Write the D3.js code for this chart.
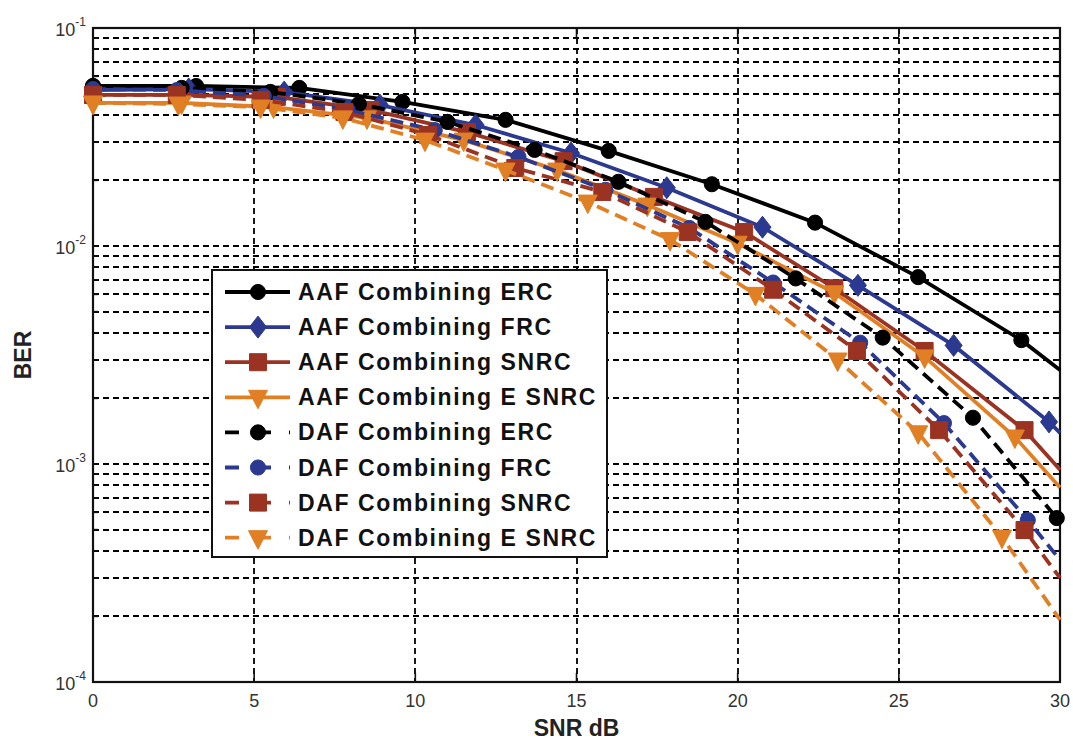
<!DOCTYPE html>
<html>
<head>
<meta charset="utf-8">
<script src="https://cdn.jsdelivr.net/npm/d3@7/dist/d3.min.js"></script>
<style>
  body { margin: 0; background: #fff; }
  text { font-family: "Liberation Sans", Arial, sans-serif; }
</style>
</head>
<body>
<div id="chart"></div>
<script>
// values (BER vs SNR in dB)
var xAafErc = [0, 3.2, 6.4, 9.6, 12.8, 16, 19.2, 22.4, 25.6, 28.8, 30];
var yAafErc = [0.0542, 0.0542, 0.0531, 0.0458, 0.0379, 0.0273, 0.0192, 0.0128, 0.0072, 0.0037, 0.0027];

var xAafFrc = [0, 2.97, 5.93, 8.9, 11.87, 14.83, 17.8, 20.77, 23.73, 26.7, 29.66, 30];
var yAafFrc = [0.0519, 0.0525, 0.0508, 0.0443, 0.0359, 0.0267, 0.0185, 0.0122, 0.0066, 0.0035, 0.00156, 0.00139];

var xAafSnrc = [0, 2.7, 5.7, 8.6, 11.6, 14.6, 17.4, 20.2, 23.0, 25.8, 28.9, 30];
var yAafSnrc = [0.0493, 0.0493, 0.0483, 0.0421, 0.0333, 0.0245, 0.0168, 0.0116, 0.0064, 0.0033, 0.00143, 0.00094];

var xAafEsnrc = [0, 2.75, 5.6, 8.5, 11.5, 14.4, 17.2, 20.0, 23.0, 25.8, 28.6, 30];
var yAafEsnrc = [0.0453, 0.0453, 0.0434, 0.0387, 0.0306, 0.0223, 0.0154, 0.0103, 0.0061, 0.0031, 0.00133, 0.00078];

var xDafErc = [0, 2.75, 5.5, 8.25, 11.0, 13.7, 16.3, 19.0, 21.8, 24.5, 27.3, 29.9];
var yDafErc = [0.0542, 0.0531, 0.0509, 0.0448, 0.0371, 0.0276, 0.0197, 0.0129, 0.0071, 0.0038, 0.00163, 0.000565];

var xDafFrc = [0, 2.6, 5.3, 7.9, 10.6, 13.2, 15.9, 18.5, 21.1, 23.8, 26.4, 29.0, 30];
var yDafFrc = [0.0525, 0.0519, 0.0488, 0.0421, 0.0340, 0.0256, 0.0181, 0.0121, 0.0068, 0.0036, 0.00154, 0.000553, 0.000363];

var xDafSnrc = [0, 2.6, 5.2, 7.8, 10.4, 13.1, 15.8, 18.45, 21.1, 23.7, 26.25, 28.9, 30];
var yDafSnrc = [0.0493, 0.0493, 0.0468, 0.0412, 0.0323, 0.0228, 0.0177, 0.0116, 0.0063, 0.0033, 0.00143, 0.000498, 0.0003];

var xDafEsnrc = [0, 2.65, 5.2, 7.75, 10.3, 12.8, 15.35, 17.9, 20.55, 23.1, 25.6, 28.2, 30];
var yDafEsnrc = [0.0453, 0.0448, 0.0434, 0.0387, 0.0306, 0.0223, 0.0159, 0.0107, 0.0060, 0.0030, 0.00139, 0.000462, 0.000193];

var seriesNames = [
  "AAF Combining ERC", "AAF Combining FRC", "AAF Combining SNRC", "AAF Combining E SNRC",
  "DAF Combining ERC", "DAF Combining FRC", "DAF Combining SNRC", "DAF Combining E SNRC"
];
var xTicks = [0, 5, 10, 15, 20, 25, 30];
var yDecades = [-1, -2, -3, -4];

var colors = { black: "#000000", blue: "#2b3990", red: "#9b3322", orange: "#e07f24" };

var series = [
  { x: xAafErc, y: yAafErc, color: colors.black, dash: null, marker: "circle" },
  { x: xAafFrc, y: yAafFrc, color: colors.blue, dash: null, marker: "diamond" },
  { x: xAafSnrc, y: yAafSnrc, color: colors.red, dash: null, marker: "square" },
  { x: xAafEsnrc, y: yAafEsnrc, color: colors.orange, dash: null, marker: "tri" },
  { x: xDafErc, y: yDafErc, color: colors.black, dash: "13,7", marker: "circle" },
  { x: xDafFrc, y: yDafFrc, color: colors.blue, dash: "13,7", marker: "circle" },
  { x: xDafSnrc, y: yDafSnrc, color: colors.red, dash: "13,7", marker: "square" },
  { x: xDafEsnrc, y: yDafEsnrc, color: colors.orange, dash: "13,7", marker: "tri" }
];
series.forEach(function (s, i) { s.name = seriesNames[i]; });

var margin = { top: 28, right: 13, bottom: 58, left: 93 };
var width = 1073 - margin.left - margin.right;
var height = 740 - margin.top - margin.bottom;

var root = d3.select("#chart").append("svg")
  .attr("width", 1073)
  .attr("height", 740);

var svg = root.append("g")
  .attr("transform", "translate(" + margin.left + "," + margin.top + ")");

var x = d3.scaleLinear().domain([0, 30]).range([0, width]);
var y = d3.scaleLog().domain([1e-4, 1e-1]).range([height, 0]);

// grid values: every minor step of each decade
var yGrid = [];
[-4, -3, -2].forEach(function (k) {
  for (var m = 1; m <= 9; m++) yGrid.push(m * Math.pow(10, k));
});
yGrid = yGrid.filter(function (v) { return v > 1e-4; });

svg.append("g").selectAll("line").data(yGrid).enter().append("line")
  .attr("x1", 0).attr("x2", width)
  .attr("y1", function (d) { return Math.round(y(d)); })
  .attr("y2", function (d) { return Math.round(y(d)); })
  .attr("stroke", "#000")
  .attr("stroke-width", 1.8)
  .attr("stroke-dasharray", "6,4");

svg.append("g").selectAll("line").data(xTicks.slice(1, -1)).enter().append("line")
  .attr("x1", function (d) { return Math.round(x(d)); })
  .attr("x2", function (d) { return Math.round(x(d)); })
  .attr("y1", 0).attr("y2", height)
  .attr("stroke", "#000")
  .attr("stroke-width", 1.8)
  .attr("stroke-dasharray", "6,4");

// inward ticks on all four sides
function tickLines(g, vals, len, side) {
  g.selectAll("line.t" + side + len).data(vals).enter().append("line")
    .attr("stroke", "#111").attr("stroke-width", 1.6)
    .attr("x1", function (d) { return side === "l" ? 0 : side === "r" ? width : x(d); })
    .attr("x2", function (d) { return side === "l" ? len : side === "r" ? width - len : x(d); })
    .attr("y1", function (d) { return side === "b" ? height : side === "t" ? 0 : y(d); })
    .attr("y2", function (d) { return side === "b" ? height - len : side === "t" ? len : y(d); });
}
var ticks = svg.append("g");
tickLines(ticks, yGrid, 5, "l");
tickLines(ticks, yGrid, 5, "r");
tickLines(ticks, xTicks, 9, "b");
tickLines(ticks, xTicks, 9, "t");

// frame
svg.append("rect")
  .attr("width", width).attr("height", height)
  .attr("fill", "none").attr("stroke", "#111").attr("stroke-width", 2.2);

// tick labels
svg.append("g").selectAll("text").data(xTicks).enter().append("text")
  .attr("x", function (d) { return x(d); })
  .attr("y", height + 25)
  .attr("text-anchor", "middle")
  .attr("fill", "#333")
  .style("font-size", "18px")
  .text(function (d) { return d; });

var yl = svg.append("g").selectAll("text").data(yDecades).enter().append("text")
  .attr("x", -7)
  .attr("y", function (d) { return y(Math.pow(10, d)) + 8; })
  .attr("text-anchor", "end")
  .attr("fill", "#333")
  .style("font-size", "18px");
yl.append("tspan").text("10");
yl.append("tspan").attr("dy", -10).style("font-size", "12px")
  .text(function (d) { return d; });

// axis titles
svg.append("text")
  .attr("x", width / 2)
  .attr("y", height + 54)
  .attr("text-anchor", "middle")
  .style("font-size", "23px")
  .style("font-weight", "bold")
  .attr("fill", "#222")
  .text("SNR dB");

svg.append("text")
  .attr("transform", "rotate(-90)")
  .attr("x", -height / 2)
  .attr("y", -62)
  .attr("text-anchor", "middle")
  .style("font-size", "23px")
  .style("font-weight", "bold")
  .attr("fill", "#222")
  .text("BER");

function markerPath(kind) {
  if (kind === "circle") return d3.symbol().type(d3.symbolCircle).size(180)();
  if (kind === "square") return "M-8.5,-8.5H8.5V8.5H-8.5Z";
  if (kind === "diamond") return "M0,-11L8.5,0L0,11L-8.5,0Z";
  return "M-9.5,-7L9.5,-7L0,11.5Z";
}

var line = d3.line()
  .x(function (d) { return x(d[0]); })
  .y(function (d) { return y(d[1]); });

series.forEach(function (s) {
  var pts = s.x.map(function (v, i) { return [v, s.y[i]]; });
  var g = svg.append("g");
  g.append("path")
    .datum(pts)
    .attr("fill", "none")
    .attr("stroke", s.color)
    .attr("stroke-width", 3.8)
    .attr("stroke-dasharray", s.dash)
    .attr("d", line);
  g.selectAll("path.m").data(pts.filter(function (d) { return d[0] < 30; }))
    .enter().append("path")
    .attr("class", "m")
    .attr("transform", function (d) { return "translate(" + x(d[0]) + "," + y(d[1]) + ")"; })
    .attr("d", markerPath(s.marker))
    .attr("fill", s.color)
    .attr("stroke", s.color)
    .attr("stroke-width", 1);
});

// legend
var leg = root.append("g");
leg.append("rect")
  .attr("x", 212).attr("y", 270)
  .attr("width", 395).attr("height", 287)
  .attr("fill", "#fff")
  .attr("stroke", "#111")
  .attr("stroke-width", 2);

series.forEach(function (s, i) {
  var cy = 292 + i * 35.1;
  leg.append("line")
    .attr("x1", 225).attr("x2", 290)
    .attr("y1", cy).attr("y2", cy)
    .attr("stroke", s.color)
    .attr("stroke-width", 3.8)
    .attr("stroke-dasharray", s.dash ? "14,18" : null);
  leg.append("path")
    .attr("transform", "translate(258," + cy + ")")
    .attr("d", markerPath(s.marker))
    .attr("fill", s.color)
    .attr("stroke", s.color);
  leg.append("text")
    .attr("x", 298)
    .attr("y", cy + 8)
    .style("font-size", "23px")
    .style("font-weight", "bold")
    .style("letter-spacing", "1.6px")
    .attr("fill", "#111")
    .text(s.name);
});
</script>
</body>
</html>
